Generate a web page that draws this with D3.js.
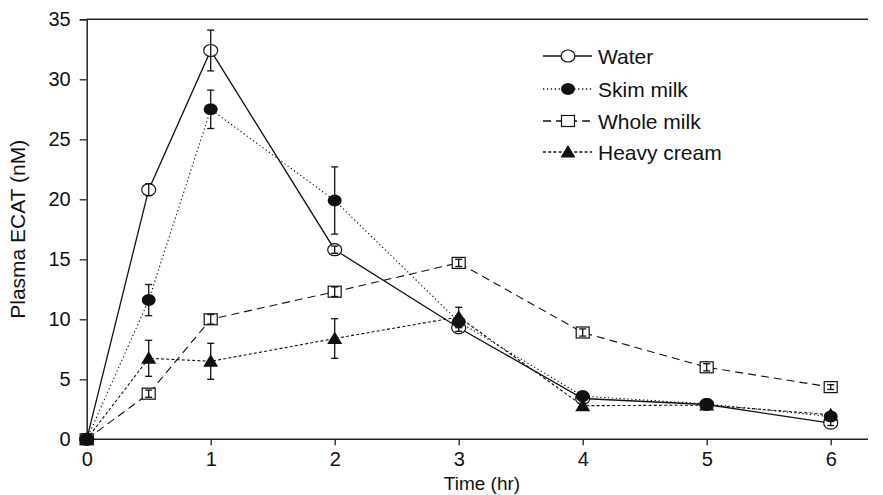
<!DOCTYPE html>
<html><head><meta charset="utf-8">
<script src="https://cdn.jsdelivr.net/npm/d3@7"></script>
<style>body{margin:0;background:#fff}svg{display:block}text{font-family:"Liberation Sans",Arial,sans-serif;fill:#111}</style>
</head><body><svg id="c" width="883" height="495"></svg>
<script>
const times = [0, 0.5, 1, 2, 3, 4, 5, 6];
const water = [0, 20.8, 32.4, 15.8, 9.3, 3.4, 2.9, 1.35];
const waterErr = [0, 0.5, 1.7, 0.3, 0.3, 0.2, 0.2, 0.2];
const skim = [0, 11.6, 27.5, 19.9, 9.8, 3.6, 2.95, 1.9];
const skimErr = [0, 1.3, 1.6, 2.8, 0.5, 0.2, 0.4, 0.3];
const whole = [0, 3.8, 10.0, 12.3, 14.7, 8.9, 6.0, 4.35];
const wholeErr = [0, 0.3, 0.4, 0.4, 0.3, 0.3, 0.3, 0.2];
const heavy = [0, 6.75, 6.5, 8.4, 10.2, 2.8, 2.85, 2.05];
const heavyErr = [0, 1.5, 1.5, 1.65, 0.8, 0.2, 0.2, 0.2];
const xTicks = [0, 1, 2, 3, 4, 5, 6];
const yTicks = [0, 5, 10, 15, 20, 25, 30, 35];
const seriesNames = ["Water", "Skim milk", "Whole milk", "Heavy cream"];

const series = [
  {name: seriesNames[0], vals: water, err: waterErr, marker: "ocircle", dash: null},
  {name: seriesNames[1], vals: skim, err: skimErr, marker: "fcircle", dash: "1.3,2.6"},
  {name: seriesNames[2], vals: whole, err: wholeErr, marker: "osquare", dash: "8,5"},
  {name: seriesNames[3], vals: heavy, err: heavyErr, marker: "ftri", dash: "3,2.2"}
];

const svg = d3.select("#c");
const x = d3.scaleLinear().domain([0, 6]).range([86.7, 830.7]);
const y = d3.scaleLinear().domain([0, 35]).range([439.3, 19.3]);
const xEnd = 868;
const axisColor = "#222";

svg.append("line").attr("x1", x(0)).attr("x2", xEnd).attr("y1", y(35)).attr("y2", y(35))
  .attr("stroke", axisColor).attr("stroke-width", 1.5);

const gx = svg.append("g").attr("transform", `translate(0,${y(0)})`)
  .call(d3.axisBottom(x).tickValues(xTicks).tickSize(6).tickPadding(5).tickFormat(d3.format("d")));
gx.select(".domain").attr("d", `M${x(0)},0H${xEnd}`);
const gy = svg.append("g").attr("transform", `translate(${x(0)},0)`)
  .call(d3.axisLeft(y).tickValues(yTicks).tickSize(7).tickPadding(9));
[gx, gy].forEach(g => {
  g.select(".domain").attr("stroke", axisColor).attr("stroke-width", 1.5);
  g.selectAll(".tick line").attr("stroke", axisColor).attr("stroke-width", 1.3);
  g.selectAll(".tick text").attr("font-size", 20).attr("font-family", '"Liberation Sans",Arial,sans-serif').attr("fill", "#111");
});
gx.selectAll(".tick text").attr("dy", "0.78em");

svg.append("text").attr("x", 482).attr("y", 490).attr("text-anchor", "middle")
  .attr("font-size", 19).text("Time (hr)");
svg.append("text").attr("transform", `translate(25,${(y(0)+y(35))/2}) rotate(-90)`)
  .attr("text-anchor", "middle").attr("font-size", 21).text("Plasma ECAT (nM)");

const line = d3.line().x((d, i) => x(times[i])).y(d => y(d));

function drawMarker(g, type, cx, cy) {
  if (type === "ocircle") {
    g.append("ellipse").attr("cx", cx).attr("cy", cy).attr("rx", 7).attr("ry", 6)
      .attr("fill", "#fff").attr("stroke", "#111").attr("stroke-width", 1.2);
  } else if (type === "fcircle") {
    g.append("ellipse").attr("cx", cx).attr("cy", cy).attr("rx", 7).attr("ry", 6).attr("fill", "#111");
  } else if (type === "osquare") {
    g.append("rect").attr("x", cx - 6.5).attr("y", cy - 5.5).attr("width", 13).attr("height", 11)
      .attr("fill", "#fff").attr("stroke", "#111").attr("stroke-width", 1.2);
  } else if (type === "ftri") {
    g.append("path").attr("d", `M${cx},${cy-7}L${cx+7.5},${cy+5.5}L${cx-7.5},${cy+5.5}Z`).attr("fill", "#111");
  }
}

series.forEach(s => {
  svg.append("path").attr("d", line(s.vals)).attr("fill", "none").attr("stroke", "#111")
    .attr("stroke-width", s.dash ? 1.1 : 1.3).attr("stroke-dasharray", s.dash);
});
[2, 0, 1, 3].forEach(k => {
  const s = series[k];
  const g = svg.append("g");
  s.vals.forEach((v, i) => drawMarker(g, s.marker, x(times[i]), y(v)));
});
series.forEach(s => {
  const g = svg.append("g").attr("stroke", "#111").attr("stroke-width", 1.3);
  s.vals.forEach((v, i) => {
    const e = s.err[i];
    if (!e) return;
    const cx = x(times[i]);
    g.append("line").attr("x1", cx).attr("x2", cx).attr("y1", y(v - e)).attr("y2", y(v + e));
    [v - e, v + e].forEach(w => g.append("line").attr("x1", cx - 3.5).attr("x2", cx + 3.5).attr("y1", y(w)).attr("y2", y(w)));
  });
});

const legY = [56, 89, 121, 152];
series.forEach((s, i) => {
  const g = svg.append("g");
  g.append("line").attr("x1", 543).attr("x2", 592).attr("y1", legY[i]).attr("y2", legY[i])
    .attr("stroke", "#111").attr("stroke-width", s.dash ? 1.4 : 1.3).attr("stroke-dasharray", s.dash);
  drawMarker(g, s.marker, 568, legY[i]);
  g.append("text").attr("x", 598).attr("y", legY[i]).attr("dy", "0.36em").attr("font-size", 21).text(s.name);
});
</script></body></html>
